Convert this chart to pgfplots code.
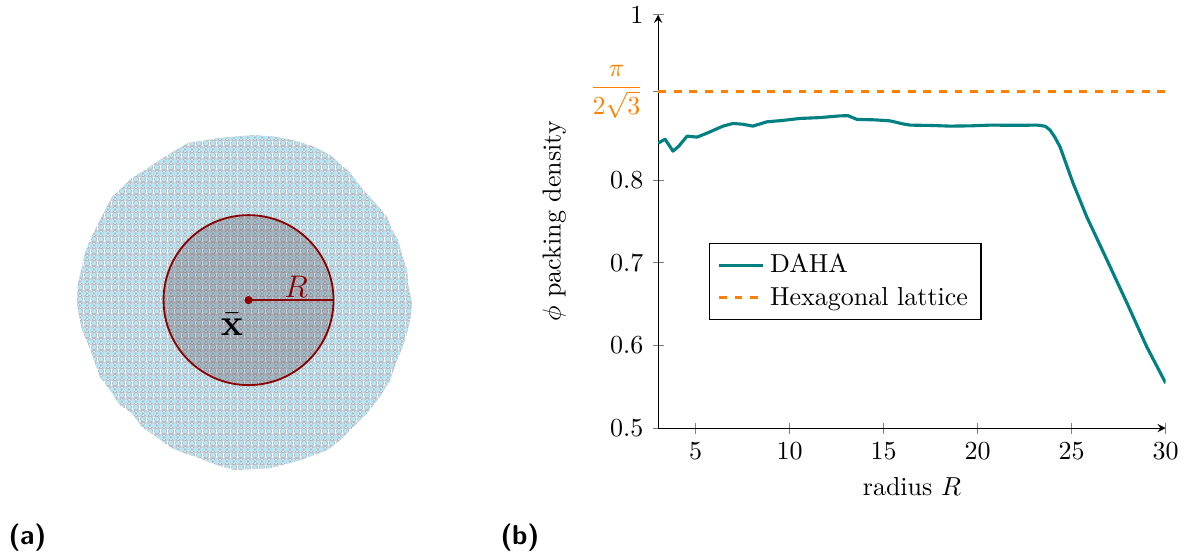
\documentclass[border=0pt]{standalone}
\usepackage{pgfplots}
\pgfplotsset{compat=1.18}
\usetikzlibrary{patterns}
\definecolor{dred}{RGB}{139,0,0}
\definecolor{shade}{RGB}{45,10,20}
\definecolor{diskfill}{RGB}{182,230,246}
\definecolor{diskedge}{RGB}{170,176,184}
\definecolor{dteal}{RGB}{0,128,128}
\definecolor{dorange}{RGB}{255,128,0}

\pgfdeclarepatternformonly{hexouter}
  {\pgfpointorigin}{\pgfpoint{2.6923pt}{4.6632pt}}{\pgfpoint{2.6923pt}{4.6632pt}}
  {
   \pgfpathcircle{\pgfpoint{0pt}{-1.1658pt}}{1.33pt}
   \pgfpathcircle{\pgfpoint{2.6923pt}{-1.1658pt}}{1.33pt}
   \pgfpathcircle{\pgfpoint{1.3462pt}{1.1658pt}}{1.33pt}
   \pgfpathcircle{\pgfpoint{0pt}{3.4974pt}}{1.33pt}
   \pgfpathcircle{\pgfpoint{2.6923pt}{3.4974pt}}{1.33pt}
   \pgfpathcircle{\pgfpoint{1.3462pt}{5.829pt}}{1.33pt}
   \pgfusepath{fill}
  }
\pgfdeclarepatternformonly{hexinner}
  {\pgfpointorigin}{\pgfpoint{2.6923pt}{4.6632pt}}{\pgfpoint{2.6923pt}{4.6632pt}}
  {
   \pgfpathcircle{\pgfpoint{0pt}{-1.1658pt}}{1.0pt}
   \pgfpathcircle{\pgfpoint{2.6923pt}{-1.1658pt}}{1.0pt}
   \pgfpathcircle{\pgfpoint{1.3462pt}{1.1658pt}}{1.0pt}
   \pgfpathcircle{\pgfpoint{0pt}{3.4974pt}}{1.0pt}
   \pgfpathcircle{\pgfpoint{2.6923pt}{3.4974pt}}{1.0pt}
   \pgfpathcircle{\pgfpoint{1.3462pt}{5.829pt}}{1.0pt}
   \pgfusepath{fill}
  }

\pgfplotstableread{
x y
24.14 -0.29
23.6 2.2
23.43 4.43
22.7 6.6
22.14 8.71
21.2 10.4
20.57 12.0
19.0 13.9
17.43 15.57
15.2 18.4
12.43 20.86
10.0 22.1
7.14 23.0
4.3 23.5
1.43 23.71
-3.2 23.3
-7.86 22.57
-10.2 21.2
-12.29 19.86
-15.86 17.57
-18.71 14.86
-20.43 11.57
-21.86 8.71
-22.6 6.8
-23.0 4.86
-23.6 2.3
-23.71 -0.29
-23.4 -2.2
-23.0 -4.14
-22.1 -6.2
-21.43 -8.0
-20.43 -10.86
-19.0 -12.71
-17.57 -14.86
-15.86 -16.0
-14.43 -18.0
-12.29 -19.43
-10.43 -20.86
-8.4 -21.7
-6.57 -22.29
-3.8 -23.4
-1.14 -24.14
1.4 -24.0
3.86 -23.86
6.0 -23.3
8.14 -22.71
12.0 -21.29
13.8 -19.9
15.29 -18.43
17.71 -16.0
19.6 -13.6
21.0 -11.29
22.0 -8.43
22.8 -6.5
23.43 -4.57
23.9 -2.4
}\clusteredge

\begin{document}
\begin{tikzpicture}
\useasboundingbox (0,0) rectangle (456.5pt,213.1pt);

% ---------- (a) packing illustration ----------
\begin{axis}[
  at={(23.46pt,27.30pt)}, anchor=south west, scale only axis,
  width=140pt, height=140pt,
  xmin=-26, xmax=26, ymin=-26, ymax=26,
  hide axis, clip=false]
\addplot[draw=none, pattern=hexouter, pattern color=diskedge] table {\clusteredge} -- cycle;
\addplot[draw=none, pattern=hexinner, pattern color=diskfill] table {\clusteredge} -- cycle;
\draw[dred, line width=0.7pt, fill=shade, fill opacity=0.2] (axis cs:0.79,0.14) circle[radius=12.14];
\addplot[dred, line width=0.7pt] coordinates {(0.79,0.14) (12.93,0.14)};
\addplot[only marks, mark=*, mark size=1.35pt, dred] coordinates {(0.79,0.14)};
\node[dred, font=\large] at (axis cs:7.57,2.0) {$R$};
\node[font=\Large] at (axis cs:-1.57,-3.3) {$\bar{\mathbf{x}}$};
\end{axis}

% ---------- (b) packing density ----------
\begin{axis}[
  at={(253.1pt,48.46pt)}, anchor=south west,
  scale only axis, width=195.2pt, height=159.0pt,
  xmin=3, xmax=30, ymin=0.5, ymax=1,
  axis lines=left, tick align=center,
  xtick={5,10,15,20,25,30},
  ytick={0.5,0.6,0.7,0.8,1},
  extra y ticks={0.9069},
  extra y tick labels={$\displaystyle\frac{\pi}{2\sqrt{3}}$},
  extra y tick style={tick label style={text=dorange}},
  xlabel={radius $R$},
  ylabel={$\phi$ packing density},
  legend cell align=left,
  legend style={at={(axis cs:5.71,0.7237)}, anchor=north west, draw=black},
]
\addplot[dteal, very thick, line join=round] coordinates {
 (3.0,0.8446) (3.37,0.8494) (3.79,0.8349) (4.1,0.841) (4.54,0.8531)
 (5.07,0.8519) (5.6,0.8567) (6.45,0.8652) (6.98,0.8684) (7.5,0.8675)
 (8.04,0.8652) (8.79,0.8704) (9.6,0.872) (10.55,0.8745) (11.6,0.8755)
 (12.67,0.8776) (13.1,0.8778) (13.58,0.8733) (14.5,0.8728) (15.33,0.8716)
 (16.0,0.868) (16.4,0.8664) (17.5,0.866) (18.53,0.8652) (19.6,0.8655)
 (20.65,0.8664) (22.0,0.8662) (23.19,0.8664) (23.6,0.865) (23.85,0.8603)
 (24.1,0.852) (24.38,0.8401) (25.07,0.7963) (25.81,0.7551) (26.88,0.7031)
 (27.94,0.6512) (29.0,0.5979) (30.0,0.5544)
};
\addlegendentry{DAHA}
\addplot[dorange, very thick, dashed] coordinates {(3,0.9069) (30,0.9069)};
\addlegendentry{Hexagonal lattice}
\end{axis}

\node[anchor=base west, inner sep=0pt, font=\sffamily\bfseries\fontsize{10.5}{12.5}\selectfont] at (3.08pt,3.85pt) {(a)};
\node[anchor=base west, inner sep=0pt, font=\sffamily\bfseries\fontsize{10.5}{12.5}\selectfont] at (192.3pt,3.85pt) {(b)};
\end{tikzpicture}
\end{document}
